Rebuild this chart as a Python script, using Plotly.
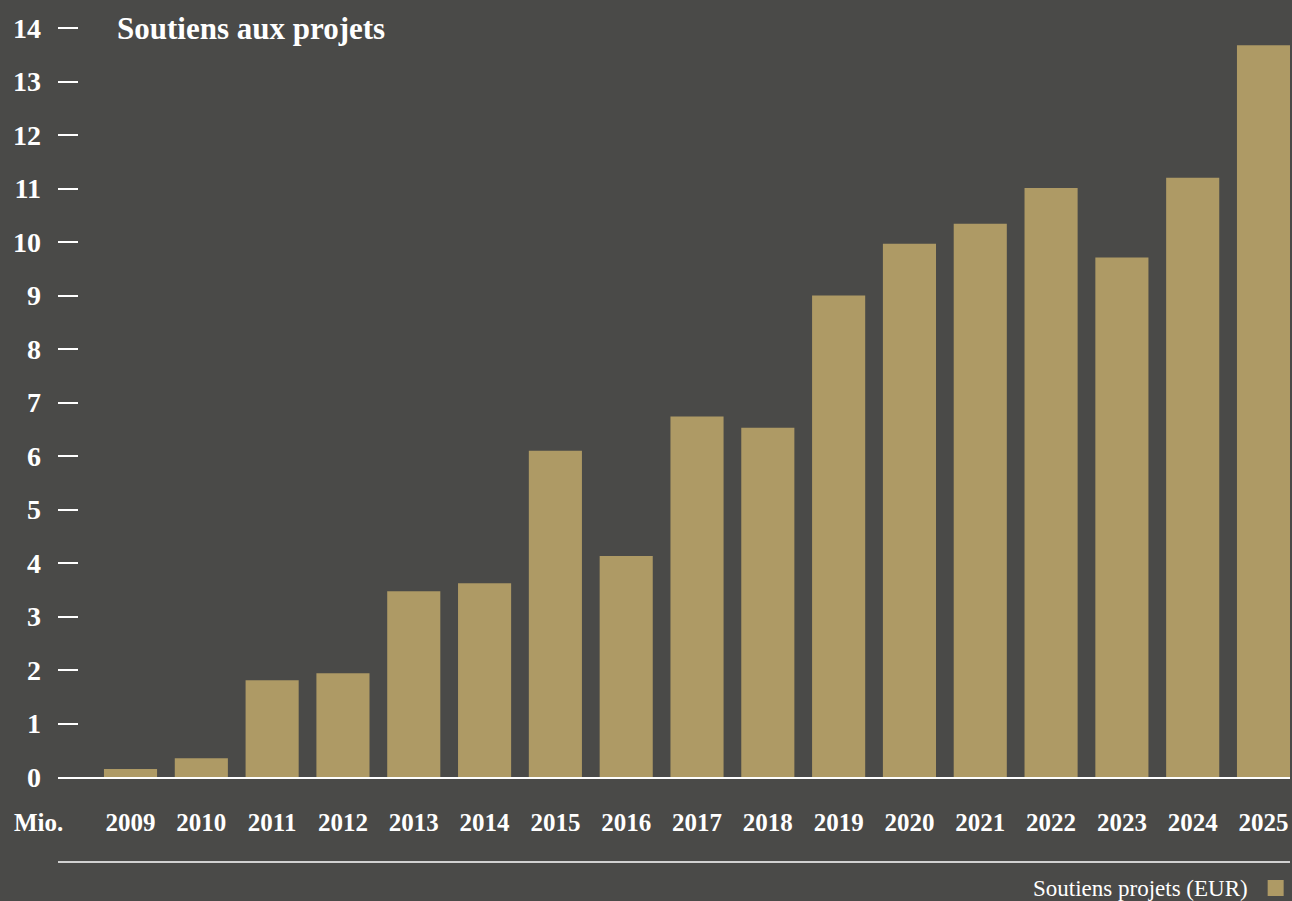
import plotly.graph_objects as go

years = ["2009", "2010", "2011", "2012", "2013", "2014", "2015", "2016", "2017",
         "2018", "2019", "2020", "2021", "2022", "2023", "2024", "2025"]
values = [0.15, 0.35, 1.81, 1.94, 3.47, 3.62, 6.10, 4.13, 6.74,
          6.53, 9.00, 9.97, 10.34, 11.01, 9.71, 11.20, 13.68]
y_ticks = list(range(0, 15))

title_text = "Soutiens aux projets"
series_name = "Soutiens projets (EUR)"
unit_label = "Mio."

BG = "#4a4a48"
BAR = "#ae9a65"
FONT = "Liberation Serif"

fig = go.Figure()
fig.add_trace(go.Bar(
    x=years, y=values, marker=dict(color=BAR, line=dict(width=0)),
    showlegend=False, name=series_name,
))
# legend entry (square swatch)
fig.add_trace(go.Scatter(
    x=[None], y=[None], mode="markers", name="",
    marker=dict(symbol="square", size=20, color=BAR),
    showlegend=True,
))

fig.update_layout(
    width=1292, height=901,
    paper_bgcolor=BG, plot_bgcolor=BG,
    margin=dict(l=58, r=2, t=12, b=124, autoexpand=False),
    bargap=0.25,
    font=dict(family=FONT, color="white"),
    showlegend=True,
    legend=dict(
        xref="paper", yref="container",
        x=1 + 11 / 1232, xanchor="right", y=13 / 901, yanchor="middle",
        orientation="h",
        bgcolor="rgba(0,0,0,0)",
        title=dict(text=series_name, side="left",
                   font=dict(family=FONT, size=23, color="white")),
        itemwidth=30, itemsizing="trace",
        font=dict(size=23, color="white"),
        tracegroupgap=0,
    ),
    xaxis=dict(
        type="category", range=[-1.024, 16.374],
        showgrid=False, zeroline=False,
        showline=True, linecolor="white", linewidth=2,
        ticks="", ticklabelstandoff=22,
        tickfont=dict(family=FONT, size=25, color="white", weight="bold"),
    ),
    yaxis=dict(
        range=[0, 14.3], tickvals=y_ticks,
        showgrid=False, zeroline=False, showline=False,
        ticks="inside", ticklen=20, tickwidth=2, tickcolor="white",
        ticklabelstandoff=16,
        tickfont=dict(family=FONT, size=28, color="white", weight="bold"),
    ),
    shapes=[dict(type="line", xref="paper", yref="paper",
                 x0=0, x1=1, y0=-0.111, y1=-0.111,
                 line=dict(color="white", width=1.5))],
    annotations=[
        dict(text=title_text, xref="paper", yref="paper",
             x=(115 - 58) / 1232, y=14.0 / 14.3, xanchor="left", yanchor="middle",
             showarrow=False,
             font=dict(family=FONT, size=31, color="white", weight="bold")),
        dict(text=unit_label, xref="paper", yref="paper",
             x=-46 / 1232, y=-45 / 765, xanchor="left", yanchor="middle",
             showarrow=False,
             font=dict(family=FONT, size=25, color="white", weight="bold")),
    ],
)

fig.write_html("out.html", config={"displayModeBar": False},
               post_script="document.body.style.margin='0';document.body.style.background='" + BG + "';")
